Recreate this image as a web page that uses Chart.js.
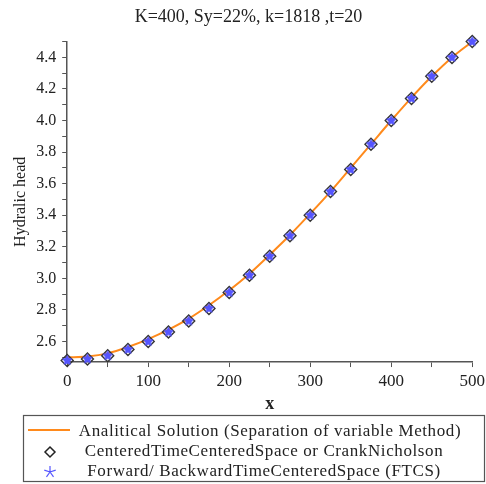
<!DOCTYPE html>
<html>
<head>
<meta charset="utf-8">
<script src="https://cdn.jsdelivr.net/npm/chart.js@4.4.1/dist/chart.umd.min.js"></script>
<style>
  html, body { margin: 0; padding: 0; background: #fff; }
</style>
</head>
<body>
<canvas id="chart" width="486" height="484"></canvas>
<script>
const chartTitle = "K=400, Sy=22%, k=1818 ,t=20";
const xValues = [0, 25, 50, 75, 100, 125, 150, 175, 200, 225, 250, 275, 300, 325, 350, 375, 400, 425, 450, 475, 500];
const analytical = [2.50, 2.505, 2.525, 2.565, 2.615, 2.675, 2.745, 2.83, 2.925, 3.03, 3.15, 3.275, 3.41, 3.55, 3.70, 3.85, 4.00, 4.145, 4.28, 4.40, 4.50];
const crankNicholson = [2.48, 2.49, 2.51, 2.55, 2.60, 2.66, 2.73, 2.81, 2.91, 3.02, 3.14, 3.27, 3.40, 3.55, 3.69, 3.85, 4.00, 4.14, 4.28, 4.40, 4.50];
const ftcs = [2.48, 2.49, 2.51, 2.55, 2.60, 2.66, 2.73, 2.81, 2.91, 3.02, 3.14, 3.27, 3.40, 3.55, 3.69, 3.85, 4.00, 4.14, 4.28, 4.40, 4.50];
const seriesLabels = [
  "Analitical Solution (Separation of variable Method)",
  "CenteredTimeCenteredSpace or CrankNicholson",
  "Forward/ BackwardTimeCenteredSpace (FTCS)",
];
const xTickValues = [0, 50, 100, 150, 200, 250, 300, 350, 400, 450, 500];
const yTickValues = [2.5, 2.6, 2.7, 2.8, 2.9, 3.0, 3.1, 3.2, 3.3, 3.4, 3.5, 3.6, 3.7, 3.8, 3.9, 4.0, 4.1, 4.2, 4.3, 4.4, 4.5];

const FONT = "'Liberation Serif', 'DejaVu Serif', serif";
const ORANGE = "#ff8a1c";
const BLUE = "#5555ff";
const AXIS = "#555";

// 5-point star used as the FTCS marker
function makeStar(r, color) {
  const c = document.createElement("canvas");
  c.width = c.height = r * 2 + 2;
  const g = c.getContext("2d");
  g.translate(r + 1, r + 1);
  g.beginPath();
  for (let i = 0; i < 10; i++) {
    const rad = i % 2 === 0 ? r : r * 0.55;
    const a = -Math.PI / 2 + (i * Math.PI) / 5;
    g.lineTo(rad * Math.cos(a), rad * Math.sin(a));
  }
  g.closePath();
  g.fillStyle = color;
  g.fill();
  return c;
}
const starImg = makeStar(5.5, BLUE);

const toXY = (ys) => ys.map((y, i) => ({ x: xValues[i], y }));

// legend drawn in a box under the chart
const boxedLegend = {
  id: "boxedLegend",
  afterDraw(chart) {
    const ctx = chart.ctx;
    const left = 23.5, top = 415.5, w = 461, h = 66;
    ctx.save();
    ctx.strokeStyle = AXIS;
    ctx.lineWidth = 1.2;
    ctx.strokeRect(left, top, w, h);

    const rows = [432, 452, 472];
    ctx.font = "17px " + FONT;
    ctx.letterSpacing = "0.6px";
    ctx.fillStyle = "#222";
    ctx.textBaseline = "middle";
    ctx.textAlign = "center";
    ctx.fillText(seriesLabels[0], 270, rows[0]);
    ctx.fillText(seriesLabels[1], 264, rows[1]);
    ctx.fillText(seriesLabels[2], 264, rows[2]);

    // line sample
    ctx.strokeStyle = ORANGE;
    ctx.lineWidth = 2;
    ctx.beginPath();
    ctx.moveTo(28, rows[0] - 2);
    ctx.lineTo(70, rows[0] - 2);
    ctx.stroke();

    // diamond
    ctx.strokeStyle = "#222";
    ctx.lineWidth = 1.5;
    ctx.beginPath();
    ctx.moveTo(50, rows[1] - 5);
    ctx.lineTo(55, rows[1]);
    ctx.lineTo(50, rows[1] + 5);
    ctx.lineTo(45, rows[1]);
    ctx.closePath();
    ctx.stroke();

    // asterisk star
    ctx.strokeStyle = BLUE;
    ctx.lineWidth = 1.2;
    ctx.beginPath();
    for (let i = 0; i < 5; i++) {
      const a = -Math.PI / 2 + (i * 2 * Math.PI) / 5;
      ctx.moveTo(50, rows[2]);
      ctx.lineTo(50 + 6 * Math.cos(a), rows[2] + 6 * Math.sin(a));
    }
    ctx.stroke();
    ctx.restore();
  },
};

new Chart(document.getElementById("chart"), {
  type: "line",
  data: {
    datasets: [
      {
        label: seriesLabels[0],
        data: toXY(analytical),
        borderColor: ORANGE,
        borderWidth: 2,
        pointRadius: 0,
        cubicInterpolationMode: "monotone",
        fill: false,
        order: 3,
      },
      {
        label: seriesLabels[1],
        data: toXY(crankNicholson),
        showLine: false,
        pointStyle: "rectRot",
        pointRadius: 6,
        borderColor: "#333",
        backgroundColor: "rgba(0,0,0,0)",
        borderWidth: 1.4,
        clip: false,
        order: 2,
      },
      {
        label: seriesLabels[2],
        data: toXY(ftcs),
        showLine: false,
        pointStyle: starImg,
        pointRadius: 5,
        clip: false,
        order: 1,
      },
    ],
  },
  options: {
    responsive: false,
    animation: false,
    layout: {
      padding: { left: 11, right: 0, top: 4, bottom: 70 },
    },
    plugins: {
      legend: { display: false },
      tooltip: { enabled: false },
      title: {
        display: true,
        text: chartTitle,
        color: "#222",
        font: { family: FONT, size: 18, weight: "normal" },
        padding: { top: 2, bottom: 14 },
      },
    },
    scales: {
      x: {
        type: "linear",
        min: 0,
        max: 500,
        afterBuildTicks: (axis) => {
          axis.ticks = xTickValues.map((v) => ({ value: v }));
        },
        // let the last label hang a little closer to the edge
        afterFit: (axis) => {
          axis.paddingRight = Math.max(0, axis.paddingRight - 3);
        },
        grid: { drawOnChartArea: false, tickLength: 5, color: AXIS },
        border: { color: AXIS, width: 1.5 },
        ticks: {
          color: "#222",
          font: { family: FONT, size: 17 },
          padding: 4,
          maxRotation: 0,
          autoSkip: false,
          callback: (v) => (v % 100 === 0 ? v : ""),
        },
        title: {
          display: true,
          text: "x",
          color: "#222",
          font: { family: FONT, size: 18, weight: "bold", lineHeight: 1.03 },
          padding: { top: 0, bottom: 0 },
        },
      },
      y: {
        type: "linear",
        min: 2.47,
        max: 4.5,
        afterBuildTicks: (axis) => {
          axis.ticks = yTickValues.map((v) => ({ value: v }));
        },
        grid: { drawOnChartArea: false, tickLength: 5, color: AXIS },
        border: { color: AXIS, width: 1.5 },
        ticks: {
          color: "#222",
          font: { family: FONT, size: 16 },
          padding: 6,
          autoSkip: false,
          callback: (v) => {
            const t = Math.round(v * 10);
            return t % 2 === 0 && t < 45 ? (t / 10).toFixed(1) : "";
          },
        },
        title: {
          display: true,
          text: "Hydralic head",
          color: "#222",
          font: { family: FONT, size: 16 },
          padding: { top: 0, bottom: 0 },
        },
      },
    },
  },
  plugins: [boxedLegend],
});
</script>
</body>
</html>
